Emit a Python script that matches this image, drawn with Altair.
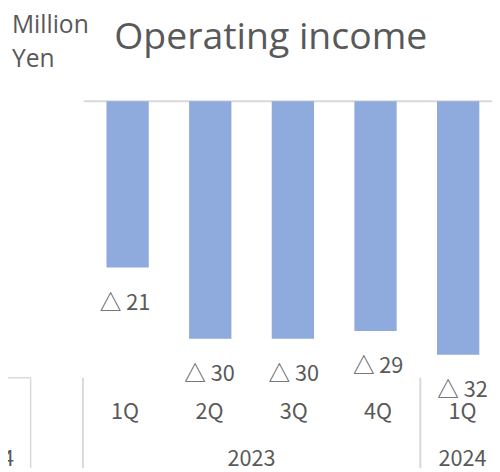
import altair as alt
import pandas as pd

quarters = ["1Q", "2Q", "3Q", "4Q", "1Q"]
years = ["2023", "2023", "2023", "2023", "2024"]
values = [-21, -30, -30, -29, -32]
labels = ["△ 21", "△ 30", "△ 30", "△ 29", "△ 32"]

year_names = ["2023", "2024"]
year_pos = [1.5, 4.0]
separators = [-0.5, 3.5]

df = pd.DataFrame({"i": list(range(len(quarters))), "q": quarters, "year": years,
                   "v": values, "label": labels})
ydf = pd.DataFrame({"i": year_pos, "year": year_names})
sdf = pd.DataFrame({"i": separators})

W, H = 492, 464
xs = alt.Scale(domain=[-1.388, 4.35], nice=False, zero=False)
ys = alt.Scale(domain=[-46.34, 11.3], nice=False, zero=False)
px = alt.Scale(domain=[0, W], range=[0, W])
py = alt.Scale(domain=[0, H], range=[0, H])
X = alt.X("i:Q", scale=xs, axis=None)

TEXT = "#595959"
LINE = "#d9d9d9"
BAR = "#8faadc"
CJK = "Noto Sans CJK JP"

base = alt.Chart(df)

bars = base.mark_bar(size=43, color=BAR).encode(
    x=X, y=alt.Y("v:Q", scale=ys, axis=None), y2=alt.datum(0))

zero = alt.Chart(pd.DataFrame({"a": [0]})).mark_rule(color=LINE, strokeWidth=2).encode(
    x=alt.value(77), x2=alt.value(W), y=alt.Y("a:Q", scale=ys, axis=None))

vlab = base.mark_text(font=CJK, fontSize=22, color=TEXT, dy=36).encode(
    x=X, y=alt.Y("v:Q", scale=ys, axis=None), text="label:N")

qlab = base.mark_text(font=CJK, fontSize=22, color=TEXT).encode(
    x=X, y=alt.value(407), text="q:N")

ylab = alt.Chart(ydf).mark_text(font=CJK, fontSize=22, color=TEXT).encode(
    x=X, y=alt.value(455), text="year:N")

seps = alt.Chart(sdf).mark_rule(color=LINE, strokeWidth=2).encode(
    x=X, y=alt.value(372), y2=alt.value(H))

# partial box of the neighbouring chart at the left edge
box_v = alt.Chart(pd.DataFrame({"a": [0]})).mark_rule(color=LINE, strokeWidth=1.5).encode(
    x=alt.value(23), y=alt.value(372), y2=alt.value(H))
box_h = alt.Chart(pd.DataFrame({"a": [0]})).mark_rule(color=LINE, strokeWidth=1.5).encode(
    x=alt.value(0), x2=alt.value(23), y=alt.value(372))
left_txt = alt.Chart(pd.DataFrame({"t": ["4Q", "2024"], "yy": [407, 455], "xx": [-5, 6]})).mark_text(
    font=CJK, fontSize=22, color=TEXT, align="right").encode(
    x=alt.X("xx:Q", scale=px, axis=None),
    y=alt.Y("yy:Q", scale=py, axis=None), text="t:N")

title = alt.Chart(pd.DataFrame({"t": ["Operating income"]})).mark_text(
    font="Open Sans", fontSize=38, color=TEXT, align="left", baseline="alphabetic").encode(
    x=alt.value(108), y=alt.value(38), text="t:N")
unit = alt.Chart(pd.DataFrame({"t": ["Million", "Yen"], "yy": [22, 56]})).mark_text(
    font="Open Sans", fontSize=25, color=TEXT, align="left", baseline="alphabetic").encode(
    x=alt.value(4), y=alt.Y("yy:Q", scale=py, axis=None),
    text="t:N")

chart = alt.layer(zero, bars, vlab, qlab, ylab, seps, box_v, box_h, left_txt, title, unit).resolve_scale(
    y="independent", x="independent").properties(
    width=W, height=H, autosize=alt.AutoSizeParams(type="none"), padding=0
).configure_view(stroke=None).configure_axis(grid=False, domain=False, ticks=False, labels=False)

chart.save("out.html", embed_options={"renderer": "svg", "actions": False})
